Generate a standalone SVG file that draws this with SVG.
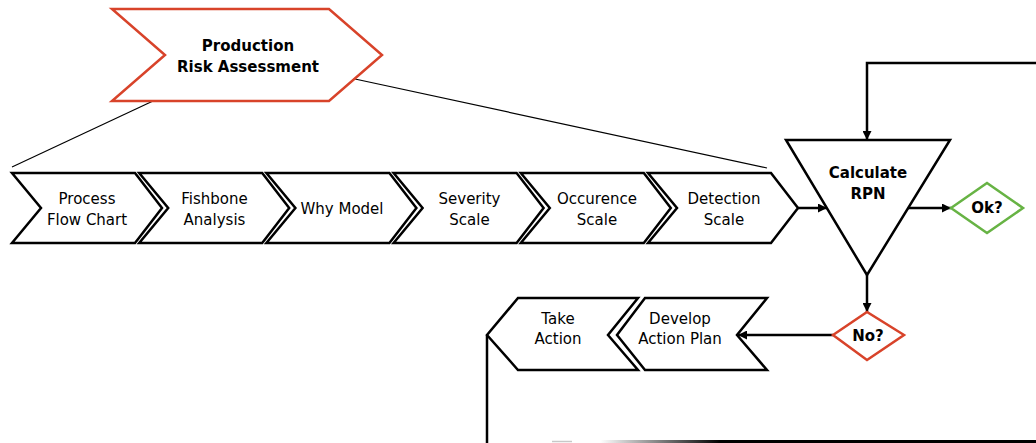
<svg xmlns="http://www.w3.org/2000/svg" width="1036" height="443" viewBox="0 0 1036 443">
  <style>
    .chev { fill: #ffffff; stroke: #000000; stroke-width: 2.5; stroke-linejoin: miter; }
    .head { fill: #ffffff; stroke: #d8432a; stroke-width: 2.5; }
    .tri { fill: #ffffff; stroke: #000000; stroke-width: 2.5; }
    .ok { fill: #ffffff; stroke: #67b344; stroke-width: 2.5; }
    .no { fill: #ffffff; stroke: #d8432a; stroke-width: 2.5; }
    .lbl { font-family: "DejaVu Sans", Verdana, sans-serif; font-size: 15px; fill: #000000; text-anchor: middle; }
    .bold { font-weight: bold; }
    .wire { fill: none; stroke: #000000; stroke-width: 2.5; }
    .thin { fill: none; stroke: #000000; stroke-width: 1.2; }
  </style>
  <defs>
    <marker id="arrow" viewBox="0 0 10 10" refX="10" refY="5" markerWidth="4.4" markerHeight="3.6" markerUnits="strokeWidth" orient="auto">
      <path d="M0,0 L10,5 L0,10 Z" fill="#000000"/>
    </marker>
    <linearGradient id="fade" x1="600" y1="0" x2="720" y2="0" gradientUnits="userSpaceOnUse">
      <stop offset="0" stop-color="#ffffff"/>
      <stop offset="1" stop-color="#000000"/>
    </linearGradient>
  </defs>

  <!-- connectors -->
  <g id="connectors">
    <line class="thin" x1="153" y1="101" x2="12" y2="167"/>
    <line class="thin" x1="355" y1="79" x2="767" y2="168"/>
    <line class="wire" x1="798" y1="208" x2="827" y2="208" marker-end="url(#arrow)"/>
    <line class="wire" x1="908" y1="208" x2="951" y2="208" marker-end="url(#arrow)"/>
    <polyline class="wire" points="1036,63 867,63 867,140" marker-end="url(#arrow)"/>
    <line class="wire" x1="867" y1="275" x2="867" y2="312" marker-end="url(#arrow)"/>
    <line class="wire" x1="833" y1="335" x2="738" y2="335" marker-end="url(#arrow)"/>
    <line class="wire" x1="487" y1="335" x2="487" y2="443"/>
    <line x1="552" y1="441.5" x2="572" y2="441.5" stroke="#c8c8c8" stroke-width="1.5"/>
    <line x1="600" y1="441.5" x2="1036" y2="441.5" stroke="url(#fade)" stroke-width="3"/>
  </g>

  <!-- header -->
  <g id="production-risk">
    <path class="head" d="M112,9 L329,9 L382,55 L329,101 L112,101 L165,55 Z"/>
    <text class="lbl bold" x="248" y="51">Production</text>
    <text class="lbl bold" x="248" y="72">Risk Assessment</text>
  </g>

  <!-- process steps -->
  <g id="process-flow-chart">
    <path class="chev" d="M12,173 L135,173 L162,208 L135,243 L12,243 L41,208 Z"/>
    <text class="lbl" x="87" y="204">Process</text>
    <text class="lbl" x="87" y="225">Flow Chart</text>
  </g>
  <g id="fishbone-analysis">
    <path class="chev" d="M139.2,173 L262.2,173 L289.2,208 L262.2,243 L139.2,243 L168.2,208 Z"/>
    <text class="lbl" x="214.5" y="204">Fishbone</text>
    <text class="lbl" x="214.5" y="225">Analysis</text>
  </g>
  <g id="why-model">
    <path class="chev" d="M266.4,173 L389.4,173 L416.4,208 L389.4,243 L266.4,243 L295.4,208 Z"/>
    <text class="lbl" x="342" y="214">Why Model</text>
  </g>
  <g id="severity-scale">
    <path class="chev" d="M393.6,173 L516.6,173 L543.6,208 L516.6,243 L393.6,243 L422.6,208 Z"/>
    <text class="lbl" x="469.5" y="204">Severity</text>
    <text class="lbl" x="469.5" y="225">Scale</text>
  </g>
  <g id="occurence-scale">
    <path class="chev" d="M520.8,173 L643.8,173 L670.8,208 L643.8,243 L520.8,243 L549.8,208 Z"/>
    <text class="lbl" x="597" y="204">Occurence</text>
    <text class="lbl" x="597" y="225">Scale</text>
  </g>
  <g id="detection-scale">
    <path class="chev" d="M648,173 L771,173 L798,208 L771,243 L648,243 L677,208 Z"/>
    <text class="lbl" x="724" y="204">Detection</text>
    <text class="lbl" x="724" y="225">Scale</text>
  </g>

  <!-- RPN calculation -->
  <g id="calculate-rpn">
    <path class="tri" d="M786,140 L950,140 L867,275 Z"/>
    <text class="lbl bold" x="868" y="178">Calculate</text>
    <text class="lbl bold" x="868" y="199">RPN</text>
  </g>
  <g id="ok-decision">
    <path class="ok" d="M951,208 L987,183 L1023,208 L987,233 Z"/>
    <text class="lbl bold" x="987" y="213">Ok?</text>
  </g>
  <g id="no-decision">
    <path class="no" d="M833,335 L867,312 L904,335 L867,360 Z"/>
    <text class="lbl bold" x="868" y="341">No?</text>
  </g>

  <!-- corrective actions -->
  <g id="develop-action-plan">
    <path class="chev" d="M645,298 L767,298 L737,335 L767,370 L645,370 L617,335 Z"/>
    <text class="lbl" x="680" y="324">Develop</text>
    <text class="lbl" x="680" y="344">Action Plan</text>
  </g>
  <g id="take-action">
    <path class="chev" d="M518,298 L638,298 L608,335 L638,370 L518,370 L487,335 Z"/>
    <text class="lbl" x="558" y="324">Take</text>
    <text class="lbl" x="558" y="344">Action</text>
  </g>
</svg>
